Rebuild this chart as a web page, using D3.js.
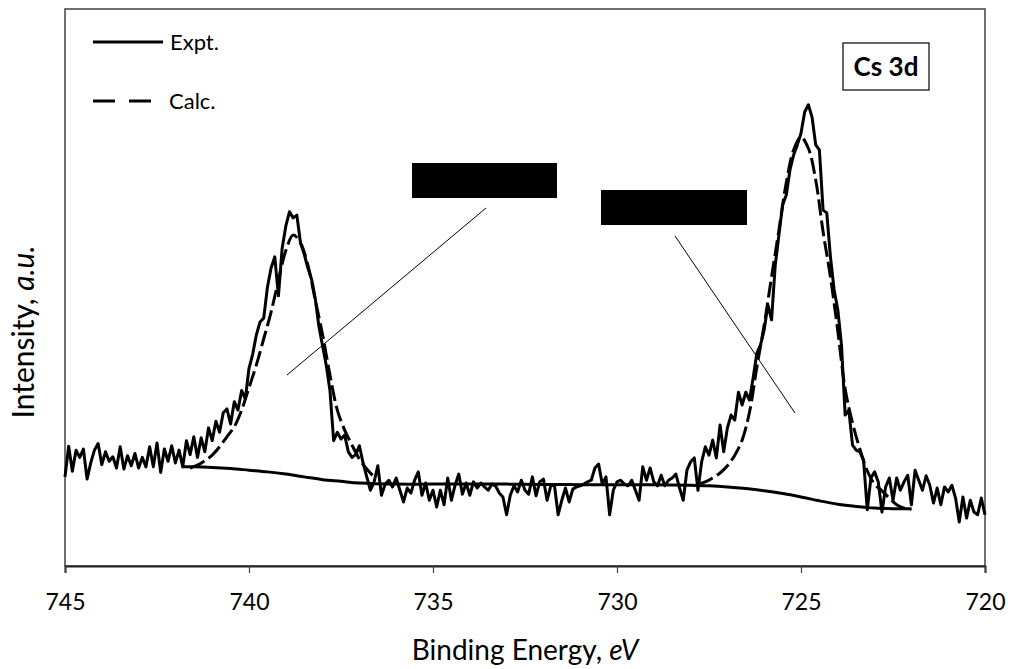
<!DOCTYPE html>
<html>
<head>
<meta charset="utf-8">
<script src="https://cdn.jsdelivr.net/npm/d3@7"></script>
<style>
  body { margin: 0; background: #fff; }
  svg { display: block; font-family: Lato, "Open Sans", sans-serif; }
</style>
</head>
<body>
<div id="chart"></div>
<script>
// Cs 3d XPS spectrum

// experimental spectrum: 745.0 -> 720.0 eV, 0.1 eV step
var exptStart = 745, exptStep = 0.1;
var exptIntensity = [
  16.0, 21.5, 17.0, 20.8, 19.5, 21.0, 15.6, 18.5, 20.8, 22.0,
  18.2, 20.5, 18.8, 19.6, 17.6, 21.4, 17.4, 19.8, 18.0, 20.2,
  17.6, 19.5, 17.8, 21.4, 17.8, 22.1, 16.8, 21.0, 18.8, 21.6,
  18.5, 20.8, 17.8, 22.5, 20.0, 23.2,
  19.5, 23.0, 20.5, 24.8, 22.5, 26.0, 24.0, 27.5, 28.2, 25.5,
  29.5, 28.0, 31.5, 30.0, 35.5, 38.0, 41.5, 43.8, 44.5, 50.0,
  53.5, 55.5, 48.5, 57.0, 61.0, 63.6, 62.5, 63.0, 58.0, 56.0,
  53.5, 51.5, 48.0, 43.0, 39.5, 36.0, 31.5, 22.5, 24.0, 22.8,
  23.5, 20.5, 19.5, 20.0, 21.6, 18.5, 16.0, 13.6,
  15.1, 18.0, 12.7, 14.7, 15.4, 14.2, 15.8, 13.6, 11.5, 14.0,
  13.1, 15.4, 16.9, 12.7, 14.9, 11.8, 13.6, 10.6, 13.6, 11.0,
  15.8, 11.8, 14.5, 16.5, 12.9, 14.9, 12.7, 15.1, 14.0, 14.9,
  14.2, 13.6, 14.7, 14.4, 13.1, 12.4, 9.2, 12.7, 14.4, 13.3,
  15.4, 13.6, 12.9, 16.0, 12.6, 15.1, 15.6, 11.8, 14.4, 14.5,
  9.2, 11.8, 14.0, 11.5, 13.8, 14.2, 14.4, 14.7, 15.1, 15.4,
  17.6, 18.3, 14.7, 16.0, 9.2, 13.6, 15.1, 15.4, 14.7, 14.4,
  15.4, 13.6, 11.8, 17.8, 15.4, 17.6, 15.1, 14.4, 16.3, 14.4,
  15.4, 15.8, 16.5, 14.0, 11.8, 17.2, 18.7, 19.4, 13.6,
  18.7, 21.4, 19.9, 22.6, 19.4, 25.3, 20.5, 24.8, 27.1, 26.2,
  31.2, 28.9, 31.2, 29.8, 33.8, 38.2, 39.7, 42.4, 46.9, 44.2,
  54.0, 59.4, 64.8, 66.6, 71.1, 73.8, 75.6, 77.7, 81.5, 82.8,
  80.6, 75.6, 74.7, 63.9, 63.4, 55.5, 49.6, 46.0, 39.7, 27.1,
  28.0, 21.7, 20.8, 20.5, 19.0, 10.1, 15.8, 16.9, 15.1, 9.7,
  14.2, 15.8, 11.8, 15.8, 13.6, 15.1, 16.3, 11.0, 17.2, 15.4,
  13.6, 16.2, 14.5, 11.3, 14.0, 11.0, 14.2, 13.3, 14.5, 12.2,
  7.9, 12.4, 8.6, 11.8, 9.7, 9.2, 12.2, 9.2
];

// calculated envelope (dashed), two pieces, 0.2 eV step
var calc1Energy = [741.6, 741.4, 741.2, 741.0, 740.8, 740.6, 740.4, 740.2, 740.0, 739.8,
  739.6, 739.4, 739.2, 739.0, 738.8, 738.6, 738.4, 738.2, 738.0, 737.8,
  737.6, 737.4, 737.2, 737.0, 736.8, 736.6];
var calc1Intensity = [17.6, 18.1, 18.9, 19.9, 21.4, 23.2, 25.0, 28.0, 32.0, 36.1,
  40.8, 45.6, 51.3, 56.6, 59.4, 58.0, 54.0, 47.8, 41.5, 34.3,
  28.0, 24.4, 21.7, 19.2, 17.4, 16.0];
var calc2Energy = [727.8, 727.6, 727.4, 727.2, 727.0, 726.8, 726.6, 726.4, 726.2, 726.0,
  725.8, 725.6, 725.4, 725.2, 725.0, 724.8, 724.6, 724.4, 724.2, 724.0,
  723.8, 723.6, 723.4, 723.2, 723.0, 722.8, 722.6, 722.4, 722.2, 722.0];
var calc2Intensity = [14.7, 15.1, 15.8, 16.7, 18.0, 19.9, 22.6, 27.6, 35.7, 43.3,
  51.9, 60.3, 68.8, 74.7, 77.0, 75.0, 69.3, 60.0, 51.9, 42.2,
  31.8, 25.7, 21.0, 17.1, 14.7, 13.5, 12.2, 11.0, 10.4, 10.2];

// Shirley-type background
var bgEnergy = [741.8, 741.5, 741.0, 740.5, 740.0, 739.5, 739.0, 738.5, 738.0, 737.5,
  737.0, 736.0, 735.0, 733.0, 731.0, 729.0, 728.0, 727.5, 727.0, 726.5,
  726.0, 725.5, 725.0, 724.5, 724.0, 723.5, 723.0, 722.5, 722.0];
var bgIntensity = [17.8, 17.8, 17.7, 17.5, 17.2, 16.9, 16.5, 16.0, 15.5, 15.2,
  14.9, 14.7, 14.7, 14.7, 14.6, 14.6, 14.5, 14.4, 14.2, 13.9,
  13.5, 13.0, 12.4, 11.7, 11.1, 10.7, 10.4, 10.3, 10.3];

var xTicks = [745, 740, 735, 730, 725, 720];

var width = 1012, height = 669;
var svg = d3.select("#chart").append("svg")
    .attr("width", width)
    .attr("height", height);

var x = d3.scaleLinear().domain([745, 720]).range([65, 985]);
var y = d3.scaleLinear().domain([0, 100]).range([566, 9]);

// frame
svg.append("rect")
    .attr("x", 65).attr("y", 9)
    .attr("width", 920).attr("height", 557)
    .attr("fill", "none")
    .attr("stroke", "#404040")
    .attr("stroke-width", 1.5);

var xAxis = svg.append("g")
    .attr("transform", "translate(0,566)")
    .call(d3.axisBottom(x).tickValues(xTicks).tickSize(7).tickPadding(21).tickFormat(d3.format("d")));
xAxis.select(".domain").attr("stroke", "#222").attr("stroke-width", 2);
xAxis.selectAll(".tick line").attr("stroke", "#404040").attr("stroke-width", 1.2);
xAxis.selectAll(".tick text").attr("font-size", 23).attr("fill", "#000")
    .attr("font-family", "Lato, sans-serif");

var expt = exptIntensity.map(function(v, i) {
  return { e: exptStart - i * exptStep, v: v };
});
function pairs(es, vs) {
  return es.map(function(e, i) { return { e: e, v: vs[i] }; });
}

var line = d3.line()
    .x(function(d) { return x(d.e); })
    .y(function(d) { return y(d.v); });
var smooth = d3.line()
    .x(function(d) { return x(d.e); })
    .y(function(d) { return y(d.v); })
    .curve(d3.curveCatmullRom);

var plot = svg.append("g");

plot.append("path")
    .datum(pairs(bgEnergy, bgIntensity))
    .attr("d", smooth)
    .attr("fill", "none").attr("stroke", "#000").attr("stroke-width", 3);

[pairs(calc1Energy, calc1Intensity), pairs(calc2Energy, calc2Intensity)].forEach(function(seg) {
  plot.append("path")
      .datum(seg)
      .attr("d", smooth)
      .attr("fill", "none").attr("stroke", "#000").attr("stroke-width", 3)
      .attr("stroke-dasharray", "16,5");
});

plot.append("path")
    .datum(expt)
    .attr("d", line)
    .attr("fill", "none").attr("stroke", "#000").attr("stroke-width", 3)
    .attr("stroke-linejoin", "round");

// redacted label boxes and leader lines
svg.append("rect").attr("x", 412).attr("y", 163).attr("width", 145).attr("height", 35).attr("fill", "#000");
svg.append("rect").attr("x", 601).attr("y", 190).attr("width", 146).attr("height", 35).attr("fill", "#000");
svg.append("line").attr("x1", 486).attr("y1", 208).attr("x2", 287).attr("y2", 375)
    .attr("stroke", "#000").attr("stroke-width", 1);
svg.append("line").attr("x1", 675).attr("y1", 236).attr("x2", 795).attr("y2", 413)
    .attr("stroke", "#000").attr("stroke-width", 1);

// legend
var legend = svg.append("g");
legend.append("line").attr("x1", 93).attr("x2", 163).attr("y1", 42).attr("y2", 42)
    .attr("stroke", "#000").attr("stroke-width", 3);
legend.append("text").attr("x", 170).attr("y", 50).text("Expt.")
    .attr("font-size", 22).attr("font-family", "Lato, sans-serif");
legend.append("line").attr("x1", 93).attr("x2", 152).attr("y1", 101).attr("y2", 101)
    .attr("stroke", "#000").attr("stroke-width", 3).attr("stroke-dasharray", "22,14");
legend.append("text").attr("x", 169).attr("y", 109).text("Calc.")
    .attr("font-size", 22).attr("font-family", "Lato, sans-serif");

// Cs 3d tag
svg.append("rect").attr("x", 843).attr("y", 43).attr("width", 86).attr("height", 47)
    .attr("fill", "#fff").attr("stroke", "#000").attr("stroke-width", 1.2);
svg.append("text").attr("x", 886).attr("y", 76).attr("text-anchor", "middle")
    .attr("font-size", 26).attr("font-weight", "bold").attr("font-family", "Lato, sans-serif")
    .text("Cs 3d");

// axis titles
var xt = svg.append("text").attr("x", 525).attr("y", 660).attr("text-anchor", "middle")
    .attr("font-size", 28).attr("font-family", "Lato, sans-serif");
xt.append("tspan").text("Binding Energy, ");
xt.append("tspan").attr("font-style", "italic").text("eV");

var yt = svg.append("text")
    .attr("transform", "translate(34,332) rotate(-90)")
    .attr("text-anchor", "middle")
    .attr("font-size", 30).attr("font-family", "Lato, sans-serif");
yt.append("tspan").text("Intensity, ");
yt.append("tspan").attr("font-style", "italic").text("a.u.");
</script>
</body>
</html>
